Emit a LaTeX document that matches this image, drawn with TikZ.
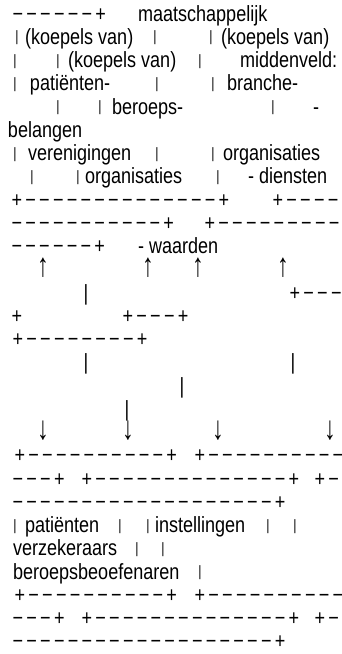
\documentclass[tikz,border=0pt]{standalone}
\usepackage{fontspec}
\setmainfont{Liberation Sans}[FakeStretch=0.82]
\newcommand\bxs[1]{\bxi#1\relax}
\def\bxi#1{\ifx#1\relax\else\makebox[13.8pt]{\if#1-−\else+\fi}\expandafter\bxi\fi}
\newcommand\vb{\raisebox{2.5pt}{\fontsize{15}{15}\selectfont|}}
\newcommand\up{\scalebox{1.3}[1.5]{↑}}
\newcommand\dn{\scalebox{1.3}[1.5]{↓}}
\newcommand\LY[1]{21+23.25*(#1-1)}
\begin{document}
\begin{tikzpicture}[x=1pt,y=-1pt,
  every node/.style={inner sep=0pt,outer sep=0pt,font=\fontsize{22}{22}\selectfont},
  t/.style={anchor=base west},
  c/.style={anchor=base}]
\useasboundingbox (0,0) rectangle (342,654);
% line 1
\node[t] (a1) at (11,{\LY{1}}) {\bxs{------+}};
\node[t] (a2) at (138,{\LY{1}}) {maatschappelijk};
% line 2
\node[c] (b1) at (17,{\LY{2}}) {\vb};
\node[t] (b2) at (25,{\LY{2}}) {(koepels van)};
\node[c] (b3) at (155,{\LY{2}}) {\vb};
\node[c] (b4) at (211,{\LY{2}}) {\vb};
\node[t] (b5) at (221,{\LY{2}}) {(koepels van)};
% line 3
\node[c] (c1) at (15,{\LY{3}}) {\vb};
\node[c] (c2) at (58,{\LY{3}}) {\vb};
\node[t] (c3) at (68,{\LY{3}}) {(koepels van)};
\node[c] (c4) at (200,{\LY{3}}) {\vb};
\node[t] (c5) at (240,{\LY{3}}) {middenveld:};
% line 4
\node[c] (d1) at (15,{\LY{4}}) {\vb};
\node[t] (d2) at (30,{\LY{4}}) {patiënten-};
\node[c] (d3) at (157,{\LY{4}}) {\vb};
\node[c] (d4) at (213,{\LY{4}}) {\vb};
\node[t] (d5) at (227,{\LY{4}}) {branche-};
% line 5
\node[c] (e1) at (58,{\LY{5}}) {\vb};
\node[c] (e2) at (100,{\LY{5}}) {\vb};
\node[t] (e3) at (112,{\LY{5}}) {beroeps-};
\node[c] (e4) at (273,{\LY{5}}) {\vb};
\node[t] (e5) at (313,{\LY{5}}) {-};
% line 6
\node[t] (f1) at (8,{\LY{6}}) {belangen};
% line 7
\node[c] (g1) at (15,{\LY{7}}) {\vb};
\node[t] (g2) at (28,{\LY{7}}) {verenigingen};
\node[c] (g3) at (157,{\LY{7}}) {\vb};
\node[c] (g4) at (213,{\LY{7}}) {\vb};
\node[t] (g5) at (223,{\LY{7}}) {organisaties};
% line 8
\node[c] (h1) at (32,{\LY{8}}) {\vb};
\node[c] (h2) at (78,{\LY{8}}) {\vb};
\node[t] (h3) at (85,{\LY{8}}) {organisaties};
\node[c] (h4) at (218,{\LY{8}}) {\vb};
\node[t] (h5) at (248,{\LY{8}}) {- diensten};
% line 9
\node[t] (i1) at (10,{\LY{9}}) {\bxs{+--------------+}};
\node[t] (i2) at (271,{\LY{9}}) {\bxs{+----}};
% line 10
\node[t] (j1) at (10,{\LY{10}}) {\bxs{-----------+}};
\node[t] (j2) at (203,{\LY{10}}) {\bxs{+---------}};
% line 11
\node[t] (k1) at (10,{\LY{11}}) {\bxs{------+}};
\node[t] (k2) at (138,{\LY{11}}) {- waarden};
% line 12
\node[c] (l1) at (43,{\LY{12}}) {\up};
\node[c] (l2) at (148,{\LY{12}}) {\up};
\node[c] (l3) at (198,{\LY{12}}) {\up};
\node[c] (l4) at (283,{\LY{12}}) {\up};
% line 13
\node[c] (m1) at (86,{\LY{13}}) {|};
\node[t] (m2) at (288,{\LY{13}}) {\bxs{+---}};
% line 14
\node[c] (n1) at (17,{\LY{14}}) {\bxs{+}};
\node[t] (n2) at (121,{\LY{14}}) {\bxs{+---+}};
% line 15
\node[t] (o1) at (11,{\LY{15}}) {\bxs{+--------+}};
% line 16
\node[c] (p1) at (86,{\LY{16}}) {|};
\node[c] (p2) at (293,{\LY{16}}) {|};
% line 17
\node[c] (q1) at (182,{\LY{17}}) {|};
% line 18
\node[c] (r1) at (127,{\LY{18}}) {|};
% line 19
\node[c] (s1) at (43,{\LY{19}}) {\dn};
\node[c] (s2) at (128,{\LY{19}}) {\dn};
\node[c] (s3) at (218,{\LY{19}}) {\dn};
\node[c] (s4) at (330,{\LY{19}}) {\dn};
% line 20
\node[t] (u1) at (13,{\LY{20}}) {\bxs{+----------+}};
\node[t] (u2) at (193,{\LY{20}}) {\bxs{+----------}};
% line 21
\node[t] (v1) at (11,{\LY{21}}) {\bxs{---+}};
\node[t] (v2) at (80,{\LY{21}}) {\bxs{+--------------+}};
\node[t] (v3) at (313,{\LY{21}}) {\bxs{+-}};
% line 22
\node[t] (w1) at (11,{\LY{22}}) {\bxs{-------------------+}};
% line 23
\node[c] (x1) at (15,{\LY{23}}) {\vb};
\node[t] (x2) at (25,{\LY{23}}) {patiënten};
\node[c] (x3) at (120,{\LY{23}}) {\vb};
\node[c] (x4) at (148,{\LY{23}}) {\vb};
\node[t] (x5) at (155,{\LY{23}}) {instellingen};
\node[c] (x6) at (268,{\LY{23}}) {\vb};
\node[c] (x7) at (295,{\LY{23}}) {\vb};
% line 24
\node[t] (y1) at (13,{\LY{24}}) {verzekeraars};
\node[c] (y2) at (137,{\LY{24}}) {\vb};
\node[c] (y3) at (163,{\LY{24}}) {\vb};
% line 25
\node[t] (z1) at (13,{\LY{25}}) {beroepsbeoefenaren};
\node[c] (z2) at (200,{\LY{25}}) {\vb};
% line 26
\node[t] (aa1) at (13,{\LY{26}}) {\bxs{+----------+}};
\node[t] (aa2) at (193,{\LY{26}}) {\bxs{+----------}};
% line 27
\node[t] (ab1) at (11,{\LY{27}}) {\bxs{---+}};
\node[t] (ab2) at (80,{\LY{27}}) {\bxs{+--------------+}};
\node[t] (ab3) at (313,{\LY{27}}) {\bxs{+-}};
% line 28
\node[t] (ac1) at (11,{\LY{28}}) {\bxs{-------------------+}};
\end{tikzpicture}
\end{document}
